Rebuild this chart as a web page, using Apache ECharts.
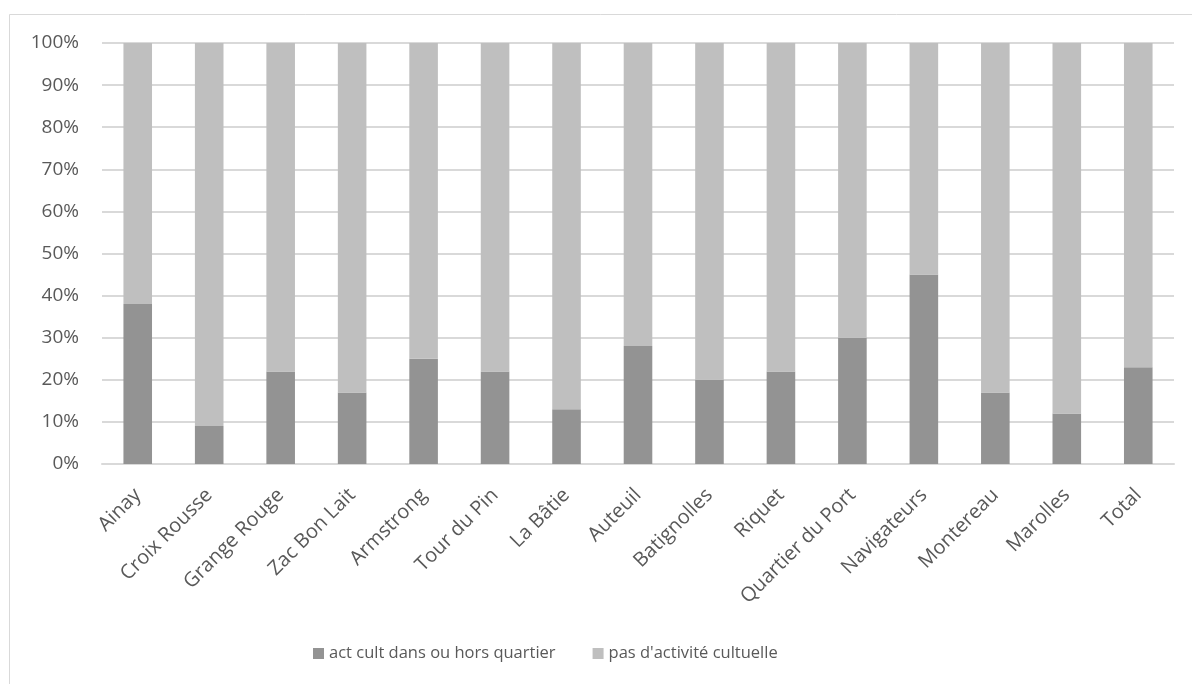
<!DOCTYPE html>
<html><head><meta charset="utf-8">
<script src="https://cdn.jsdelivr.net/npm/echarts@6/dist/echarts.min.js"></script>
<style>html,body{margin:0;padding:0;background:#fff}#c{width:1192px;height:684px}</style>
</head><body><div id="c"></div>
<script>
const categories = ['Ainay','Croix Rousse','Grange Rouge','Zac Bon Lait','Armstrong','Tour du Pin','La Bâtie','Auteuil','Batignolles','Riquet','Quartier du Port','Navigateurs','Montereau','Marolles','Total'];
const actCult = [38, 9, 22, 17, 25, 22, 13, 28, 20, 22, 30, 45, 17, 12, 23];
const pasActivite = actCult.map(v => 100 - v);
const yTicks = [0,10,20,30,40,50,60,70,80,90,100];
const seriesNames = ['act cult dans ou hors quartier', "pas d'activité cultuelle"];

const chart = echarts.init(document.getElementById('c'), null, {renderer:'canvas'});
const font = 'Open Sans';
chart.setOption({
  animation:false,
  backgroundColor:'#fff',
  graphic:[{type:'polyline', shape:{points:[[9.5,684],[9.5,14.5],[1192,14.5]]}, style:{stroke:'#d9d9d9', lineWidth:1, fill:null}, silent:true}],
  grid:{left:102, right:18, top:43, bottom:220, containLabel:false},
  legend:{left:308, top:640, itemWidth:11, itemHeight:11, itemGap:37, icon:'rect',
    textStyle:{color:'#595959', fontSize:16.5, fontFamily:font}, data:seriesNames},
  xAxis:{type:'category', data:categories,
    axisLine:{show:true, lineStyle:{color:'#d9d9d9', width:2}},
    axisTick:{show:false},
    axisLabel:{rotate:45, color:'#595959', fontSize:20, fontFamily:font, margin:28, interval:0}},
  yAxis:{type:'value', min:0, max:100, interval:10,
    axisLine:{show:false}, axisTick:{show:false},
    splitLine:{lineStyle:{color:'#d9d9d9', width:2}},
    axisLabel:{formatter: v => v + '%', color:'#595959', fontSize:19, fontFamily:font, margin:23}},
  series:[
    {name:seriesNames[0], type:'bar', stack:'s', data:actCult, barWidth:'40%', itemStyle:{color:'#939393'}},
    {name:seriesNames[1], type:'bar', stack:'s', data:pasActivite, barWidth:'40%', itemStyle:{color:'#bfbfbf'}}
  ]
});
</script></body></html>
